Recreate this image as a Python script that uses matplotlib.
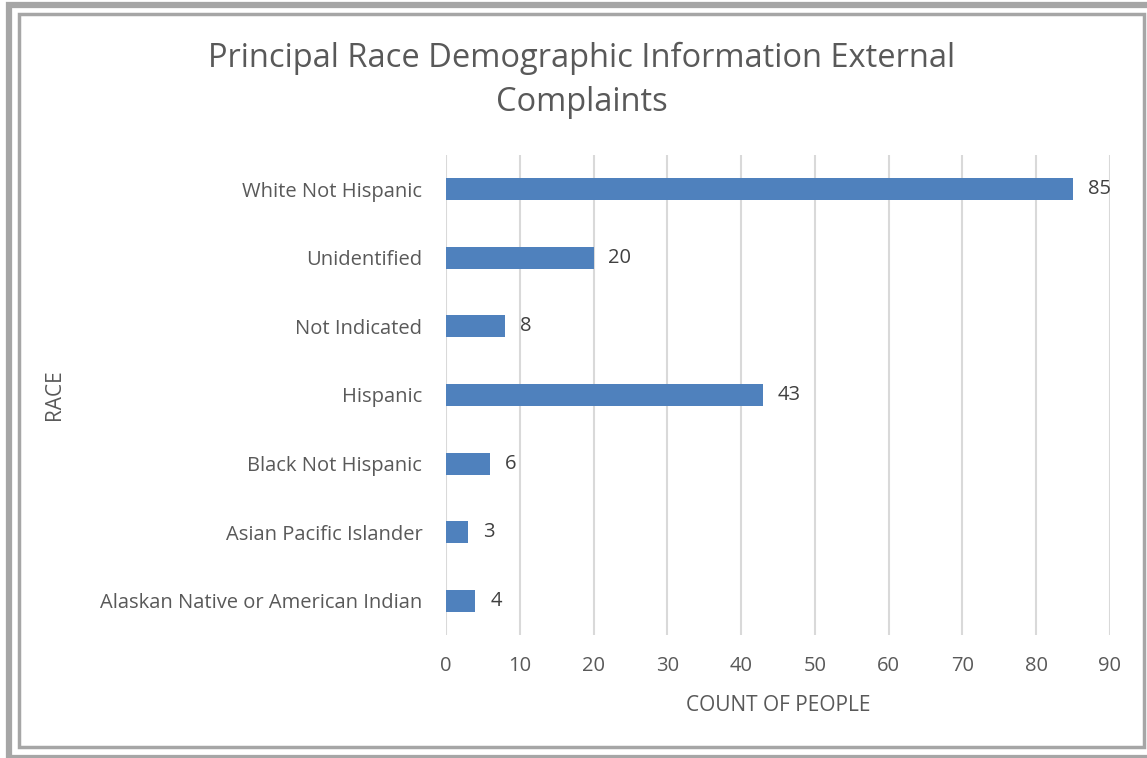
import matplotlib.pyplot as plt
from matplotlib.patches import Rectangle

races = ["Alaskan Native or American Indian", "Asian Pacific Islander",
         "Black Not Hispanic", "Hispanic", "Not Indicated",
         "Unidentified", "White Not Hispanic"]
counts = [4, 3, 6, 43, 8, 20, 85]
x_ticks = [0, 10, 20, 30, 40, 50, 60, 70, 80, 90]

plt.rcParams['font.family'] = ['Open Sans', 'DejaVu Sans']
text_color = '#595959'

fig = plt.figure(figsize=(11.47, 7.58), dpi=100)
ax = fig.add_axes([0.3888, 0.1623, 0.5789, 0.6332])

ypos = range(len(races))
ax.barh(ypos, counts, height=0.32, color='#4F81BD', zorder=3)
for y, v in zip(ypos, counts):
    ax.text(v + 2, y, str(v), va='center', ha='left', fontsize=14.5, color='#404040')

ax.set_xlim(0, 90)
ax.set_ylim(-0.5, len(races) - 0.5)
ax.set_xticks(x_ticks)
ax.set_yticks(list(ypos))
ax.set_yticklabels(races)
ax.tick_params(axis='both', length=0, labelsize=14.5, labelcolor=text_color)
ax.tick_params(axis='x', pad=15)
ax.tick_params(axis='y', pad=17)
ax.grid(axis='x', color='#D9D9D9', linewidth=1.5, zorder=0)
for s in ax.spines.values():
    s.set_visible(False)

ax.set_xlabel("COUNT OF PEOPLE", fontsize=15, color=text_color)
ax.set_ylabel("RACE", fontsize=15, color=text_color)
ax.xaxis.set_label_coords(0.5, -0.125)
ax.yaxis.set_label_coords(-0.574, 0.5)

fig.text(0.507, 0.894, "Principal Race Demographic Information External\nComplaints",
         ha='center', va='center', fontsize=23.5, color=text_color, linespacing=1.45)

# double frame around the chart
W, H = 1147, 758
fig.patches.append(Rectangle((9 / W, 0), (W + 20) / W, (H - 5) / H, transform=fig.transFigure,
                             fill=False, edgecolor='#A6A6A6', linewidth=4.5))
fig.patches.append(Rectangle((19 / W, 11 / H), 1125 / W, 733 / H, transform=fig.transFigure,
                             fill=False, edgecolor='#A6A6A6', linewidth=2.5))

fig.savefig("out.png", dpi=100)
